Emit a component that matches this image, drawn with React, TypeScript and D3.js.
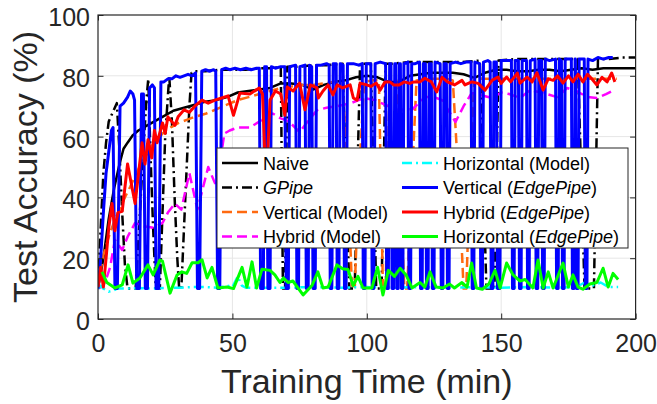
import React, { useRef, useEffect } from 'react'
import * as d3 from 'd3'

type Pt = [number, number]

// training time (min), test accuracy (%)
const naive: Pt[] = [
  [0, 10], [2, 20], [4, 33], [6, 43], [8, 51], [9.5, 56], [11, 58], [13, 60.5], [15, 62], [18, 63.5],
  [21, 65], [24, 66.5], [28, 68.5], [32, 69.5], [36, 70.5], [40, 71.5], [44, 72], [48, 73], [52, 74.5],
  [56, 75], [60, 75.5], [64, 76], [68, 77.5], [72, 77.5], [76, 77], [80, 75.5], [84, 77], [88, 78],
  [92, 78.5], [96, 79.5], [100, 80], [104, 79.5], [108, 78], [112, 78], [116, 80], [120, 80.5], [124, 81],
  [128, 81], [132, 81], [136, 80.5], [140, 79.3], [144, 81], [148, 82], [152, 82], [156, 81.5], [160, 81.5],
  [164, 82], [168, 82], [172, 81.5], [176, 82], [180, 82.5], [184, 82], [188, 82.5], [192, 82.5], [196, 82.5],
  [200, 82.5],
]

const gpipe: Pt[] = [
  [0, 10], [1, 30], [2, 48], [3, 58], [4, 65], [5, 67], [6, 69], [7, 71], [8, 55], [9, 35], [10, 18],
  [11, 10], [14, 10], [15, 25], [16.5, 50], [18, 72], [18.7, 79], [19.5, 55], [20.5, 30], [21.5, 10],
  [23, 10], [24, 35], [25, 60], [26.5, 80], [27.5, 65], [28.5, 40], [29.5, 20], [30.2, 10], [31, 10],
  [32, 30], [33, 50], [34, 70], [34.8, 81], [36, 81.5], [40, 81.5], [45, 82], [50, 82], [55, 82],
  [60, 82.5], [65, 82.5], [68, 83], [68.8, 10], [69.6, 10], [70.4, 83], [75, 83], [80, 83.5], [85, 83.5],
  [91, 84], [93.5, 10], [95.5, 10], [97.5, 84], [101.5, 84], [103.5, 10], [105.5, 10], [107, 84],
  [110, 84], [115, 84.5], [120, 84.5], [125, 84.5], [130, 84.5], [135, 84.5], [142, 85], [144.5, 10],
  [147.5, 10], [149, 85], [155, 85.5], [160, 85.5], [165, 85.5], [170, 85.5], [178.5, 85.5], [181, 10],
  [184.5, 10], [186, 85.5], [190, 85.5], [195, 86], [200, 86],
]

const verticalModel: Pt[] = [
  [0, 10], [1, 16], [2, 21], [4, 27], [6, 32], [8, 36], [10, 40], [12, 43.5], [14, 47.5], [16, 51],
  [18, 54], [20, 57], [22, 59], [24, 61], [27, 63], [30, 64.5], [33, 65.5], [36, 66.5], [40, 67.5],
  [44, 69], [48, 70.5], [52, 72], [56, 73], [60, 74], [64, 75], [68, 76], [72, 76.5], [76, 77], [80, 77],
  [84, 77.5], [88, 78], [91, 78], [93, 45], [94.5, 10], [95.5, 10], [97, 45], [99, 78], [102, 78.5],
  [104.5, 78.5], [106, 10], [107, 10], [108.5, 78], [111, 78.5], [113, 30], [114, 10], [115, 10],
  [117, 50], [118.5, 78.5], [122, 79], [126, 79], [130, 79], [132, 78.5], [134.5, 40], [136, 10],
  [137, 10], [138.5, 50], [140, 79], [145, 79], [150, 79], [155, 79], [160, 79], [165, 79], [170, 79],
  [175, 79], [180, 79], [185, 79], [190, 79], [193, 79],
]

const hybridModel: Pt[] = [
  [0, 10], [2, 11], [3, 13], [4.5, 17], [6.3, 26], [9, 22.7], [11, 27], [13.8, 31.6], [17, 30.5],
  [21, 30], [24, 31.6], [26, 35], [28.6, 38], [31, 36], [34, 48], [37, 36], [39, 43], [41, 50],
  [43.5, 44.7], [45.5, 52], [47, 61], [49, 62], [52, 63], [56.5, 63], [61, 65.5], [65, 67.6], [68, 66],
  [71, 65], [75, 61.5], [78, 65], [81.5, 68.7], [85, 69.5], [89, 70], [94, 71], [99, 72.7], [103, 72],
  [107, 70.4], [111.6, 68.8], [117, 69], [121.6, 73], [125, 73], [128, 72], [133, 64.8], [136, 70],
  [139, 74.3], [143, 73.5], [146.6, 72.7], [150, 74.5], [153, 74], [157, 72.7], [160.7, 75.3],
  [165, 74.5], [170.8, 73], [174.5, 76], [178, 75], [182, 73], [185.6, 72.7], [189, 74], [192, 75.3],
]

const horizontalModel: Pt[] = [
  [0, 10], [1, 11], [2, 10], [3, 9.5], [4, 9], [5, 9.2], [6, 9.5], [7, 10], [10, 10], [15, 10.2],
  [20, 10], [25, 10.2], [30, 10.3], [35, 10.5], [40, 10.5], [45, 10.3], [48, 11], [50, 10.5], [52, 14],
  [53.5, 11], [55, 10.3], [60, 10.3], [70, 10.3], [80, 10.5], [90, 10.3], [100, 10.5], [110, 10.3],
  [120, 10.5], [130, 10.3], [140, 10.5], [150, 10.3], [160, 10.5], [170, 10.3], [178, 10.5], [181, 12],
  [184, 11], [187, 12], [190, 10.5], [193.5, 10.5],
]

const verticalEdge: Pt[] = [
  [0, 10], [1, 20], [2, 35], [3, 48], [4, 55], [5, 62], [5.6, 63], [6.3, 10], [7.2, 10], [8.2, 70],
  [9.5, 71], [11, 73], [12, 75], [13, 74], [13.6, 72], [14.4, 10], [15.4, 10], [16.2, 74], [16.9, 74],
  [17.6, 10], [18.4, 10], [19.2, 76], [20.2, 77], [21, 76], [21.6, 10], [22.6, 10], [23.4, 78],
  [24.5, 78], [26, 79], [27.5, 79], [29, 80], [30.5, 79.5], [32, 80], [33.5, 80.5], [35, 80], [36.3, 81],
  [37, 10], [37.8, 10], [38.6, 81.5], [40, 82], [41.5, 81.5], [43, 82], [43.8, 81.5], [44.5, 10],
  [45.3, 10], [46, 82], [47.5, 82.5], [49, 82], [51, 82.5], [53, 82], [55, 82.5], [57, 82], [59, 82.5],
  [60, 82.5], [60.5, 10], [61.5, 10], [62, 83], [62.7, 83], [63.2, 10], [64, 10], [64.5, 83], [66, 82.5],
  [68, 83], [69.5, 83], [70, 10], [70.8, 10], [71.3, 83], [73.5, 83.5], [74, 10], [74.6, 10], [75.1, 83],
  [77, 83.5], [77.5, 10], [78.2, 10], [78.7, 83.5], [79.5, 83], [80, 10], [80.8, 10], [81.3, 83.5],
  [83, 83.5], [85, 84], [86, 83.5], [86.4, 10], [87, 10], [87.5, 84], [88.6, 84], [89, 10], [89.6, 10],
  [90.1, 84], [91.2, 83.5], [91.7, 10], [92.3, 10], [92.8, 84], [95, 84], [97, 83.5], [98.3, 84],
  [98.7, 10], [99.3, 10], [99.8, 84], [101.5, 84], [102, 10], [102.6, 10], [103.1, 84], [105, 84.5],
  [107, 84], [107.4, 10], [108, 10], [108.5, 84], [109, 84], [109.4, 10], [110, 10], [110.4, 84],
  [110.8, 84], [111.2, 10], [111.7, 10], [112.1, 84], [112.5, 84], [112.9, 10], [113.4, 10], [113.8, 84],
  [115.3, 84.5], [115.7, 10], [116.3, 10], [116.7, 84], [118, 84], [119.6, 84.5], [120, 10], [120.6, 10],
  [121, 84], [121.8, 84], [122.2, 10], [122.8, 10], [123.2, 84], [124, 84], [124.4, 10], [125, 10],
  [125.4, 84.5], [127.3, 84], [127.7, 10], [128.3, 10], [128.7, 84], [129.6, 84], [130, 10], [130.6, 10],
  [131, 84], [133, 84.5], [135, 84], [137, 84.5], [138.8, 84.5], [139.2, 10], [139.8, 10], [140.2, 84.5],
  [142, 84], [142.4, 10], [143, 10], [143.4, 84.5], [145, 85], [145.9, 84.5], [146.3, 10], [146.9, 10],
  [147.3, 84.5], [148.2, 84.5], [148.6, 10], [149.5, 10], [150, 85], [152, 85], [153.8, 85], [154.2, 10],
  [154.8, 10], [155.2, 85], [156.4, 85], [156.8, 10], [157.4, 10], [157.8, 85], [159.4, 85], [159.8, 10],
  [160.4, 10], [160.8, 85], [162.6, 85.5], [163, 10], [163.6, 10], [164, 85], [165, 85], [165.4, 10],
  [166, 10], [166.4, 85.5], [168, 85], [170.2, 85.5], [170.6, 10], [171.2, 10], [171.6, 85.5],
  [172.4, 85], [172.8, 10], [173.4, 10], [173.8, 85.5], [176.1, 85.5], [176.5, 10], [177.1, 10],
  [177.5, 85.5], [177.6, 85.5], [178, 10], [178.6, 10], [179, 85.5], [180.9, 85.5], [181.3, 10],
  [181.9, 10], [182.3, 85.5], [184, 85], [186, 86], [188, 85.5], [190, 86], [191.5, 86],
]

const hybridEdge: Pt[] = [
  [0, 10.5], [1, 17], [2, 10.5], [3, 20], [4, 30], [5.2, 38], [6.3, 29], [7.4, 35], [9, 35.4], [11, 51],
  [13.8, 38], [16.4, 58], [17.5, 51], [18.6, 59], [20, 53], [21, 62], [22, 58], [24, 64.5], [25, 61],
  [26, 66.5], [28.6, 63.7], [29.8, 66.5], [32, 68.8], [34, 68], [36, 70], [38.7, 72], [41, 71],
  [43.5, 72], [46, 72.7], [48.4, 73.4], [50.4, 67], [52.8, 74.3], [56.5, 74], [60, 76], [61.2, 74],
  [62.3, 48], [63, 52], [64, 72], [66, 75], [68, 74], [69.5, 67], [70.4, 76.3], [72.6, 75], [75, 77.6],
  [77, 68.8], [79, 77], [81.5, 76], [82, 72.7], [83.7, 75], [85.6, 77], [87.4, 73.7], [89, 77], [91, 76],
  [93.8, 77], [95, 72.7], [96.4, 72], [97.5, 77.6], [100, 77], [101.5, 76.5], [103.5, 77.6], [105, 75.3],
  [106.8, 78], [108.6, 78], [110, 77], [112, 77], [114, 78], [116, 77.5], [117.5, 78], [119.8, 78],
  [121.6, 79.2], [124, 78], [126, 74.7], [128, 79.5], [130, 78], [132.6, 77], [135.4, 78.5], [136.5, 77],
  [139, 78], [141.4, 77.5], [144, 75.3], [146.6, 78.5], [148.8, 79.6], [150, 77.5], [152, 79.6],
  [153.5, 78], [156, 80.9], [157, 77.6], [159.6, 79.6], [161.5, 78], [163.3, 81], [165.6, 75.3],
  [167.5, 79], [169.3, 78.5], [171, 80], [173, 77.6], [175, 80], [176.7, 78], [178.6, 80.5], [180.4, 78],
  [182.1, 80.5], [183.7, 79], [185.6, 77], [187.5, 79.5], [189.4, 78], [191.1, 80.9], [192.3, 78],
]

const horizontalEdge: Pt[] = [
  [1.5, 15.5], [3.3, 12], [6.3, 10.2], [9, 11.2], [11.2, 17.8], [13, 11.8], [15.6, 13.5], [18.6, 17.8],
  [20.5, 14.5], [23, 19.4], [24, 19], [26.8, 8.5], [29.4, 14.5], [31.2, 15.5], [33, 15], [35, 18.5],
  [37.2, 18.5], [38.7, 19.5], [40.6, 13.5], [42.4, 17], [44.6, 10.2], [48, 10.5], [50.4, 10], [53.6, 17],
  [55.4, 10.5], [57.3, 18.8], [59, 10.2], [61, 16.4], [64, 16], [65.8, 14.5], [67.7, 12], [69, 13.5],
  [70.7, 12], [72.5, 12.5], [76.3, 7.9], [79.6, 11], [81.8, 15.5], [83.7, 10.2], [85.6, 10.5],
  [88.9, 17.8], [91, 16.5], [93, 16.3], [94.9, 11], [96.7, 14], [98.6, 10.2], [101.9, 10.2], [104, 17],
  [106, 7.9], [108, 16], [110.3, 14], [112.4, 16.7], [114.6, 14.5], [116.8, 10.2], [119.8, 12],
  [121.6, 10.5], [123.5, 15.5], [125.8, 10.5], [128.3, 10.2], [130.8, 11.5], [132.6, 10.2], [135.4, 12],
  [137.3, 10.5], [139, 18.4], [140.8, 10.2], [143, 9.8], [145.4, 11.5], [147.7, 16], [149.6, 10.2],
  [152, 18.4], [154.4, 14.5], [157, 12.5], [158.9, 13], [161.8, 10.2], [163.7, 19.4], [165.6, 10.2],
  [167.5, 15.5], [169.3, 10.2], [173, 18.4], [175, 10.5], [176.7, 14.5], [178.6, 10.5], [180.4, 9.8],
  [183, 11.5], [185.6, 12], [187.9, 16.7], [189.8, 10.5], [191.6, 15], [193.5, 13],
]

const xTicks = [0, 50, 100, 150, 200]
const yTicks = [0, 20, 40, 60, 80, 100]

// label parts: [text, italic]
const series = [
  { label: [['Naive', false]], data: naive, color: '#000000', dash: '', w: 2.5 },
  { label: [['GPipe', true]], data: gpipe, color: '#000000', dash: '10,4,2,4', w: 2.5 },
  { label: [['Vertical (Model)', false]], data: verticalModel, color: '#ff6a10', dash: '10,5', w: 2.5 },
  { label: [['Hybrid (Model)', false]], data: hybridModel, color: '#ff00ff', dash: '10,5', w: 2.5 },
  { label: [['Horizontal (Model)', false]], data: horizontalModel, color: '#00ffff', dash: '10,4,2,4', w: 2.5 },
  { label: [['Vertical (', false], ['EdgePipe', true], [')', false]], data: verticalEdge, color: '#0000ff', dash: '', w: 3 },
  { label: [['Hybrid (', false], ['EdgePipe', true], [')', false]], data: hybridEdge, color: '#ff0000', dash: '', w: 3 },
  { label: [['Horizontal (', false], ['EdgePipe', true], [')', false]], data: horizontalEdge, color: '#00ff00', dash: '', w: 3 },
] as { label: [string, boolean][]; data: Pt[]; color: string; dash: string; w: number }[]

const App = () => {
  const svgRef = useRef<SVGSVGElement>(null)

  useEffect(() => {
    const svg = d3.select(svgRef.current)
    svg.selectAll('*').remove()

    const width = 657
    const height = 404
    const margin = { top: 15, right: 21.4, bottom: 85, left: 98 }
    const font = "'Liberation Sans', Arial, Helvetica, sans-serif"
    const axisColor = '#262626'

    const x = d3.scaleLinear().domain([0, 200]).range([margin.left, width - margin.right])
    const y = d3.scaleLinear().domain([0, 100]).range([height - margin.bottom, margin.top])

    svg.append('rect').attr('width', width).attr('height', height).attr('fill', '#fff')

    // grid
    const grid = svg.append('g').attr('stroke', '#e6e6e6').attr('stroke-width', 1)
    xTicks.slice(1, -1).forEach(t => {
      grid.append('line').attr('x1', x(t)).attr('x2', x(t)).attr('y1', y(0)).attr('y2', y(100))
    })
    yTicks.slice(1, -1).forEach(t => {
      grid.append('line').attr('x1', x(0)).attr('x2', x(200)).attr('y1', y(t)).attr('y2', y(t))
    })

    svg.append('clipPath').attr('id', 'plot-clip')
      .append('rect')
      .attr('x', x(0)).attr('y', y(100))
      .attr('width', x(200) - x(0)).attr('height', y(0) - y(100))

    const line = d3.line<Pt>().x(d => x(d[0])).y(d => y(d[1]))

    const lines = svg.append('g').attr('clip-path', 'url(#plot-clip)')
    series.forEach(s => {
      lines.append('path')
        .attr('d', line(s.data))
        .attr('fill', 'none')
        .attr('stroke', s.color)
        .attr('stroke-width', s.w)
        .attr('stroke-dasharray', s.dash || null)
        .attr('stroke-linejoin', 'round')
    })

    // axes (ticks inward, box on)
    const styleAxis = (g: d3.Selection<SVGGElement, unknown, null, undefined>) => {
      g.select('.domain').remove()
      g.selectAll('line').attr('stroke', axisColor).attr('stroke-width', 1)
      g.selectAll('text').attr('fill', axisColor).style('font-family', font).style('font-size', '25px')
    }

    svg.append('g')
      .attr('transform', `translate(0, ${y(0)})`)
      .call(d3.axisBottom(x).tickValues(xTicks).tickSize(-5.5).tickSizeOuter(0).tickPadding(15))
      .call(styleAxis)
    svg.append('g')
      .attr('transform', `translate(${x(0)}, 0)`)
      .call(d3.axisLeft(y).tickValues(yTicks).tickSize(-5.5).tickSizeOuter(0).tickPadding(8))
      .call(styleAxis)
      .selectAll('text').attr('dy', '0.42em')
    svg.append('g')
      .attr('transform', `translate(0, ${y(100)})`)
      .call(d3.axisTop(x).tickValues(xTicks).tickSize(-5.5).tickSizeOuter(0).tickFormat(() => ''))
      .call(styleAxis)
    svg.append('g')
      .attr('transform', `translate(${x(200)}, 0)`)
      .call(d3.axisRight(y).tickValues(yTicks).tickSize(-5.5).tickSizeOuter(0).tickFormat(() => ''))
      .call(styleAxis)

    svg.append('rect')
      .attr('x', x(0)).attr('y', y(100))
      .attr('width', x(200) - x(0)).attr('height', y(0) - y(100))
      .attr('fill', 'none').attr('stroke', axisColor).attr('stroke-width', 1.2)

    // axis labels
    svg.append('text')
      .attr('x', (x(0) + x(200)) / 2).attr('y', 393)
      .attr('text-anchor', 'middle')
      .attr('fill', axisColor)
      .style('font-family', font).style('font-size', '34px')
      .text('Training Time (min)')
    svg.append('text')
      .attr('transform', `translate(37, ${(y(0) + y(100)) / 2}) rotate(-90)`)
      .attr('text-anchor', 'middle')
      .attr('fill', axisColor)
      .style('font-family', font).style('font-size', '34px')
      .text('Test Accuracy (%)')

    // legend
    const lg = svg.append('g')
    lg.append('rect')
      .attr('x', 217).attr('y', 148).attr('width', 411).attr('height', 100)
      .attr('fill', '#fff').attr('stroke', axisColor).attr('stroke-width', 1)
    const rowY = [163, 187.5, 212, 236.5]
    const colX = [222, 402]
    series.forEach((s, i) => {
      const col = Math.floor(i / 4)
      const row = i % 4
      const lx = colX[col]
      const ly = rowY[row]
      lg.append('line')
        .attr('x1', lx).attr('x2', lx + 36).attr('y1', ly).attr('y2', ly)
        .attr('stroke', s.color).attr('stroke-width', s.w)
        .attr('stroke-dasharray', s.dash || null)
      const t = lg.append('text')
        .attr('x', lx + 41).attr('y', ly + 6.5)
        .attr('fill', '#000')
        .style('font-family', font).style('font-size', '18px')
      s.label.forEach(([txt, it]) => {
        t.append('tspan').attr('font-style', it ? 'italic' : 'normal').text(txt)
      })
    })
  }, [])

  return (
    <svg
      ref={svgRef}
      width={657}
      height={404}
      style={{ position: 'absolute', left: 0, top: 0 }}
    />
  )
}

export default App
